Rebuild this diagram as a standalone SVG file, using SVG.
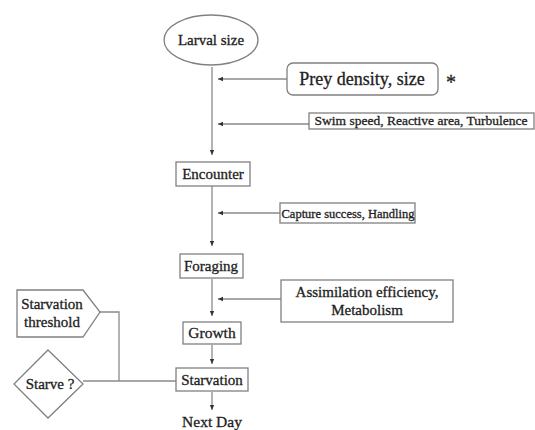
<svg xmlns="http://www.w3.org/2000/svg" width="535" height="430" viewBox="0 0 535 430">
<defs>
<marker id="ah" markerWidth="6" markerHeight="6" refX="5" refY="3" orient="auto" markerUnits="userSpaceOnUse">
<path d="M0,0.8 L5,3 L0,5.2 Z" fill="#333"/>
</marker>
<style>
.box{fill:#fff;stroke:#808080;stroke-width:1.3}
.ln{fill:none;stroke:#8a8a8a;stroke-width:1.3}
.t{font-size:15px;fill:#222;stroke:#222;stroke-width:0.3;text-anchor:middle}
.s{font-size:12.5px}
</style>
</defs>
<rect width="535" height="430" fill="#fff"/>
<g id="connectors">
<line class="ln" x1="212" y1="67" x2="212" y2="155" marker-end="url(#ah)"/>
<line class="ln" x1="287" y1="79" x2="218" y2="79" marker-end="url(#ah)"/>
<line class="ln" x1="309" y1="124" x2="218" y2="124" marker-end="url(#ah)"/>
<line class="ln" x1="212" y1="186" x2="212" y2="246" marker-end="url(#ah)"/>
<line class="ln" x1="280" y1="213" x2="218" y2="213" marker-end="url(#ah)"/>
<line class="ln" x1="212" y1="279" x2="212" y2="316" marker-end="url(#ah)"/>
<line class="ln" x1="281" y1="299" x2="218" y2="299" marker-end="url(#ah)"/>
<line class="ln" x1="212" y1="345" x2="212" y2="364" marker-end="url(#ah)"/>
<line class="ln" x1="212" y1="392" x2="212" y2="410" marker-end="url(#ah)"/>
<polyline class="ln" points="100,312 119,312 119,381"/>
<line class="ln" x1="83" y1="381" x2="176" y2="381"/>
</g>
<g font-family="Liberation Serif, Times New Roman, serif">
<g id="larval"><ellipse class="box" cx="211" cy="40" rx="47" ry="25"/><text class="t" x="211" y="45">Larval size</text></g>
<g id="prey"><rect class="box" x="287" y="63" width="151" height="32" rx="6"/><text class="t" x="362" y="85" style="font-size:18px">Prey density, size</text><text class="t" x="451" y="89" style="font-size:20px">*</text></g>
<g id="swim"><rect class="box" x="309" y="113" width="225" height="16"/><text class="t" x="421" y="125" style="font-size:13.5px">Swim speed, Reactive area, Turbulence</text></g>
<g id="encounter"><rect class="box" x="176" y="162" width="74" height="24"/><text class="t" x="213" y="179">Encounter</text></g>
<g id="capture"><rect class="box" x="280" y="203" width="135" height="20"/><text class="t s" x="348" y="217.5">Capture success, Handling</text></g>
<g id="foraging"><rect class="box" x="180" y="254" width="63" height="24"/><text class="t" x="211" y="271">Foraging</text></g>
<g id="assim"><rect class="box" x="281" y="280" width="172" height="42"/><text class="t" x="367" y="297">Assimilation efficiency,</text><text class="t" x="367" y="315">Metabolism</text></g>
<g id="growth"><rect class="box" x="183" y="322" width="58" height="22"/><text class="t" x="212" y="338" style="font-size:15.5px">Growth</text></g>
<g id="starvation"><rect class="box" x="176" y="368" width="72" height="23"/><text class="t" x="212" y="385">Starvation</text></g>
<g id="threshold"><polygon class="box" points="17,290 83,290 100,312 83,337 17,337"/><text class="t" x="52" y="309">Starvation</text><text class="t" x="52" y="327">threshold</text></g>
<g id="starve"><polygon class="box" points="48,350 83,384 48,418 14,384"/><text class="t" x="50" y="389">Starve ?</text></g>
<g id="nextday"><text class="t" x="212" y="427" style="font-size:15.5px">Next Day</text></g>
</g>
</svg>
